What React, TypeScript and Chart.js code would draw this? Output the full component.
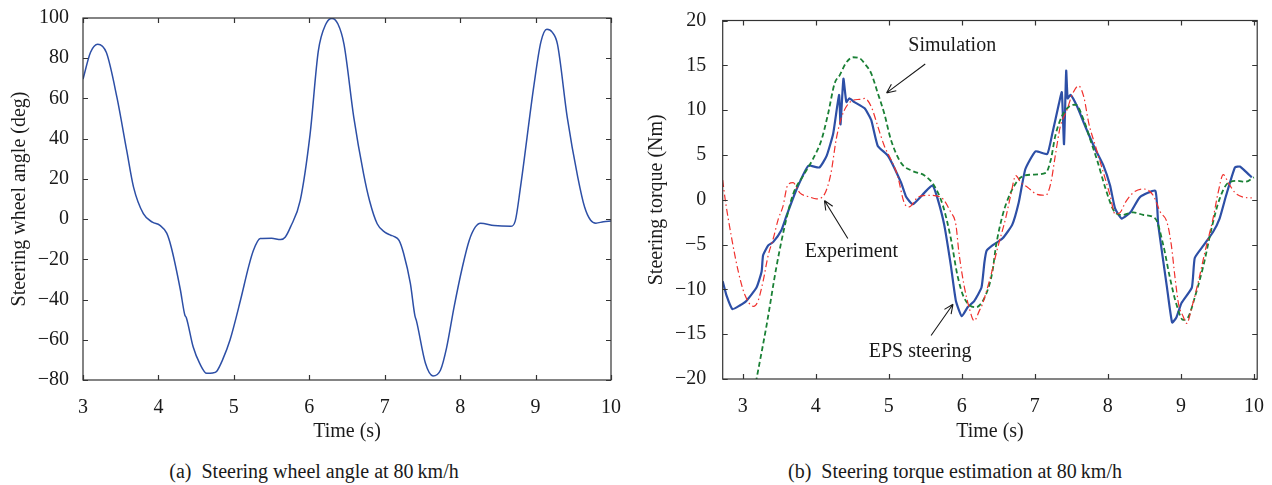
import React, { useEffect, useRef } from 'react';
import { Chart, registerables } from 'chart.js';

Chart.register(...registerables);

// ---------- (a) steering wheel angle ----------
const angleTime = [3.0, 3.1, 3.195, 3.31, 3.45, 3.58, 3.67, 3.8, 3.92, 4.02, 4.11, 4.17, 4.29, 4.35, 4.37, 4.46, 4.55, 4.64, 4.72, 4.77, 4.85, 4.95, 5.09, 5.2, 5.26, 5.35, 5.5, 5.62, 5.68, 5.75, 5.88, 6.01, 6.12, 6.22, 6.3, 6.38, 6.46, 6.59, 6.72, 6.8, 6.9, 7.0, 7.08, 7.12, 7.19, 7.25, 7.34, 7.4, 7.42, 7.54, 7.64, 7.74, 7.82, 7.92, 8.03, 8.12, 8.2, 8.27, 8.45, 8.67, 8.73, 8.8, 8.98, 9.07, 9.15, 9.22, 9.29, 9.42, 9.56, 9.65, 9.73, 9.8, 9.9, 10.0];
const angleDeg = [69.6, 83, 87, 82.8, 60.5, 34, 15.9, 2.7, -1.5, -3.1, -7, -14, -35, -47.7, -49, -63.5, -72, -76.7, -76.5, -75.8, -70, -60, -40, -23, -15.5, -9.7, -9.5, -10.2, -9, -4, 9.3, 42, 83.6, 97, 99.8, 97, 87, 50.6, 22.5, 9, -2.3, -6.5, -8, -8.6, -10.6, -17, -32, -48, -50.5, -71.7, -78, -75, -64, -43.6, -23.8, -10.6, -4, -2, -3.2, -3.6, -1, 15.9, 67, 88, 94.4, 93, 87, 50.6, 20.8, 6, -0.6, -2, -1.3, -1];
const timeTicksA = [3, 4, 5, 6, 7, 8, 9, 10];
const angleTicks = [-80, -60, -40, -20, 0, 20, 40, 60, 80, 100];

// ---------- (b) steering torque ----------
const epsTime = [2.727, 2.78, 2.86, 2.96, 3.05, 3.19, 3.26, 3.28, 3.35, 3.42, 3.53, 3.6, 3.74, 3.9, 4.05, 4.15, 4.24, 4.32, 4.34, 4.38, 4.42, 4.46, 4.53, 4.67, 4.76, 4.85, 4.99, 5.17, 5.24, 5.33, 5.49, 5.6, 5.67, 5.76, 5.85, 5.92, 6.0, 6.08, 6.17, 6.27, 6.31, 6.34, 6.42, 6.56, 6.69, 6.78, 6.87, 7.01, 7.17, 7.24, 7.33, 7.37, 7.4, 7.43, 7.45, 7.49, 7.58, 7.69, 7.83, 7.94, 8.03, 8.1, 8.19, 8.31, 8.44, 8.65, 8.69, 8.81, 8.88, 8.94, 9.01, 9.15, 9.19, 9.31, 9.44, 9.53, 9.62, 9.74, 9.81, 9.88, 9.97];
const epsTorque = [-9.1, -10.7, -12.2, -11.8, -11.3, -9.8, -8.0, -6.2, -5.1, -4.7, -3.4, -1.8, 1.2, 3.8, 3.6, 4.9, 7.4, 11.7, 8.4, 13.5, 10.9, 11.3, 10.9, 10.2, 8.9, 6.0, 4.9, 1.9, 0.3, -0.5, 0.8, 1.6, 0.1, -2.8, -7.3, -11.3, -13.0, -12.0, -11.3, -9.8, -7.0, -5.7, -5.1, -4.3, -2.8, -0.3, 3.4, 5.4, 5.1, 7.4, 10.7, 12.0, 6.2, 14.4, 11.3, 11.7, 10.4, 8.2, 5.6, 3.8, 1.6, -1.0, -2.1, -1.4, 0.3, 1.0, -2.8, -9.8, -13.7, -13.1, -11.5, -9.8, -6.5, -5.1, -3.6, -2.1, 0.5, 3.6, 3.7, 3.2, 2.5];

const simTime = [3.1, 3.19, 3.33, 3.46, 3.58, 3.69, 3.83, 3.96, 4.08, 4.17, 4.26, 4.33, 4.41, 4.51, 4.6, 4.67, 4.76, 4.85, 4.94, 5.03, 5.17, 5.33, 5.49, 5.62, 5.74, 5.85, 5.94, 6.03, 6.19, 6.33, 6.42, 6.47, 6.56, 6.67, 6.81, 6.96, 7.15, 7.22, 7.28, 7.37, 7.47, 7.56, 7.67, 7.76, 7.85, 7.97, 8.08, 8.19, 8.35, 8.49, 8.65, 8.76, 8.85, 8.94, 9.03, 9.1, 9.19, 9.31, 9.42, 9.53, 9.65, 9.78, 9.88, 10.0];
const simTorque = [-23.9, -20, -13.9, -7.6, -2.8, 0.6, 2.7, 4.5, 6.7, 9.6, 13.0, 13.9, 15.2, 15.9, 15.8, 15.2, 14.1, 11.9, 9.6, 6.7, 4.1, 3.2, 2.7, 1.6, -0.6, -4.3, -8.4, -10.9, -12.0, -10.6, -8.0, -5.1, -1.7, 0.8, 2.5, 2.8, 3.0, 4.5, 7.1, 9.3, 10.4, 10.6, 8.9, 6.7, 4.5, 1.2, -1.2, -1.7, -1.4, -1.7, -2.1, -5.1, -8.7, -11.7, -13.4, -13.1, -10.9, -7.3, -3.2, 0.1, 1.9, 2.1, 2.0, 2.5];

const expTime = [2.727, 2.76, 2.85, 2.94, 3.03, 3.15, 3.21, 3.28, 3.35, 3.42, 3.49, 3.55, 3.62, 3.69, 3.78, 3.92, 4.01, 4.12, 4.21, 4.28, 4.35, 4.42, 4.51, 4.6, 4.67, 4.76, 4.85, 4.94, 5.03, 5.12, 5.21, 5.28, 5.4, 5.53, 5.71, 5.85, 5.92, 5.96, 6.03, 6.1, 6.17, 6.24, 6.28, 6.4, 6.49, 6.6, 6.67, 6.74, 6.81, 6.9, 7.03, 7.15, 7.22, 7.28, 7.35, 7.44, 7.51, 7.6, 7.67, 7.74, 7.83, 7.94, 8.03, 8.1, 8.17, 8.24, 8.35, 8.49, 8.62, 8.72, 8.81, 8.87, 8.92, 8.97, 9.03, 9.08, 9.15, 9.24, 9.33, 9.44, 9.51, 9.58, 9.65, 9.74, 9.85, 9.97];
const expTorque = [2.2, 0.1, -4.3, -8.0, -10.6, -11.9, -11.3, -9.1, -6.2, -4.3, -2.1, -0.8, 1.7, 1.9, 0.8, 0.3, 0.1, 0.6, 3.0, 6.7, 9.1, 10.4, 11.1, 11.2, 11.3, 10.4, 8.2, 6.0, 4.5, 2.7, -0.3, -0.8, 0.3, 0.5, 0.3, -1.4, -2.8, -5.8, -9.5, -12.0, -13.5, -12.4, -11.7, -8.4, -5.4, -2.1, 0.5, 2.7, 1.9, 1.4, 0.6, 0.5, 1.9, 4.9, 8.2, 10.0, 11.7, 12.7, 11.5, 8.5, 6.0, 3.0, 0.5, -1.6, -1.4, -0.3, 0.8, 1.2, 0.5, -1.4, -2.5, -5.1, -8.7, -11.7, -13.0, -13.8, -12.0, -9.1, -5.8, -2.1, 0.8, 2.8, 1.9, 0.8, 0.3, 0.2];

const timeTicksB = [3, 4, 5, 6, 7, 8, 9, 10];
const torqueTicks = [-20, -15, -10, -5, 0, 5, 10, 15, 20];

// annotation labels (data coordinates of text centre, arrow tail, arrow head)
const noteTexts = ['Simulation', 'Experiment', 'EPS steering'];
const noteTextPos = [[5.87, 17.17], [4.49, -5.79], [5.43, -16.99]];
const noteTail = [[5.5, 15.15], [4.44, -4.32], [5.58, -15.15]];
const noteHead = [[4.97, 11.92], [4.12, -0.09], [5.88, -11.66]];

const FONT = "'Liberation Serif', 'Times New Roman', serif";
const INK = '#1a1a1a';

const pts = (xs: number[], ys: number[]) => xs.map((x, i) => ({ x, y: ys[i] }));
const fmt = (v: any) => String(v).replace('-', '\u2212');

const boxTicks = {
  id: 'boxTicks',
  afterDatasetsDraw(chart: any) {
    const { ctx, chartArea: a, scales } = chart;
    ctx.save();
    ctx.strokeStyle = '#333';
    ctx.lineWidth = 1.2;
    ctx.strokeRect(a.left, a.top, a.right - a.left, a.bottom - a.top);
    const L = 5;
    ctx.beginPath();
    scales.x.ticks.forEach((t: any) => {
      const p = Math.round(scales.x.getPixelForValue(t.value)) + 0.5;
      ctx.moveTo(p, a.bottom); ctx.lineTo(p, a.bottom - L);
      ctx.moveTo(p, a.top); ctx.lineTo(p, a.top + L);
    });
    scales.y.ticks.forEach((t: any) => {
      const p = Math.round(scales.y.getPixelForValue(t.value)) + 0.5;
      ctx.moveTo(a.left, p); ctx.lineTo(a.left + L, p);
      ctx.moveTo(a.right, p); ctx.lineTo(a.right - L, p);
    });
    ctx.stroke();
    ctx.restore();
  },
};

const notesPlugin = {
  id: 'notes',
  afterDraw(chart: any) {
    const { ctx, scales } = chart;
    const X = (v: number) => scales.x.getPixelForValue(v);
    const Y = (v: number) => scales.y.getPixelForValue(v);
    ctx.save();
    ctx.font = `20px ${FONT}`;
    ctx.fillStyle = INK;
    ctx.strokeStyle = INK;
    ctx.lineWidth = 1.1;
    ctx.textAlign = 'center';
    ctx.textBaseline = 'middle';
    noteTexts.forEach((txt, i) => {
      ctx.fillText(txt, X(noteTextPos[i][0]), Y(noteTextPos[i][1]));
      const x1 = X(noteTail[i][0]), y1 = Y(noteTail[i][1]);
      const x2 = X(noteHead[i][0]), y2 = Y(noteHead[i][1]);
      ctx.beginPath();
      ctx.moveTo(x1, y1); ctx.lineTo(x2, y2);
      const ang = Math.atan2(y2 - y1, x2 - x1);
      const hl = 10, hw = 0.42;
      ctx.moveTo(x2, y2); ctx.lineTo(x2 - hl * Math.cos(ang - hw), y2 - hl * Math.sin(ang - hw));
      ctx.moveTo(x2, y2); ctx.lineTo(x2 - hl * Math.cos(ang + hw), y2 - hl * Math.sin(ang + hw));
      ctx.stroke();
    });
    ctx.restore();
  },
};

function axis(min: number, max: number, ticks: number[], title: string, horizontal: boolean, size: number, titlePad: any, tickPad: number) {
  return {
    type: 'linear',
    min,
    max,
    afterBuildTicks: (s: any) => { s.ticks = ticks.map((v) => ({ value: v })); },
    afterFit: (s: any) => { if (horizontal) s.height = size; else s.width = size; },
    grid: { display: false },
    border: { display: false },
    ticks: { padding: tickPad, font: { size: 20, family: FONT }, color: INK, maxRotation: 0, autoSkip: false, callback: fmt },
    title: { display: true, text: title, color: INK, font: { size: 20, family: FONT }, padding: titlePad },
  };
}

export default function App() {
  const leftRef = useRef<HTMLCanvasElement>(null);
  const rightRef = useRef<HTMLCanvasElement>(null);

  useEffect(() => {
    const c1 = new Chart(leftRef.current as HTMLCanvasElement, {
      type: 'line',
      data: {
        datasets: [
          { data: pts(angleTime, angleDeg), borderColor: '#2d4fa6', borderWidth: 1.5, pointRadius: 0, cubicInterpolationMode: 'monotone' },
        ],
      },
      options: {
        animation: false,
        responsive: false,
        devicePixelRatio: 1,
        layout: { padding: { left: 0, top: 17, right: 25, bottom: 0 } },
        plugins: { legend: { display: false }, tooltip: { enabled: false } },
        scales: {
          x: axis(3, 10, timeTicksA, 'Time (s)', true, 75, { top: 0, bottom: 11 }, 8),
          y: axis(-80, 100, angleTicks, 'Steering wheel angle (deg)', false, 83, { top: 8, bottom: 0 }, 6),
        },
      } as any,
      plugins: [boxTicks],
    } as any);

    const c2 = new Chart(rightRef.current as HTMLCanvasElement, {
      type: 'line',
      data: {
        datasets: [
          { label: 'Experiment', data: pts(expTime, expTorque), borderColor: '#f0302c', borderWidth: 1.2, borderDash: [7, 3, 1.5, 3], pointRadius: 0, cubicInterpolationMode: 'monotone' },
          { label: 'Simulation', data: pts(simTime, simTorque), borderColor: '#1a8035', borderWidth: 1.8, borderDash: [5, 3], pointRadius: 0, cubicInterpolationMode: 'monotone' },
          { label: 'EPS steering', data: pts(epsTime, epsTorque), borderColor: '#2d4fa6', borderWidth: 2.2, pointRadius: 0, tension: 0.15 },
        ],
      },
      options: {
        animation: false,
        responsive: false,
        devicePixelRatio: 1,
        layout: { padding: { left: 0, top: 16, right: 13, bottom: 0 } },
        plugins: { legend: { display: false }, tooltip: { enabled: false } },
        scales: {
          x: axis(2.727, 10.045, timeTicksB, 'Time (s)', true, 76, { top: 0, bottom: 11 }, 8),
          y: axis(-20, 20, torqueTicks, 'Steering torque (Nm)', false, 86.7, { top: 9, bottom: 0 }, 8.5),
        },
      } as any,
      plugins: [boxTicks, notesPlugin],
    } as any);

    return () => { c1.destroy(); c2.destroy(); };
  }, []);

  const capStyle: React.CSSProperties = {
    position: 'absolute', top: 459, height: 24, lineHeight: '24px', fontSize: 20,
    fontFamily: FONT, color: INK, textAlign: 'center', whiteSpace: 'nowrap',
  };

  return (
    <div style={{ position: 'absolute', left: 0, top: 0, width: 1272, height: 485, background: '#fff', overflow: 'hidden' }}>
      <canvas ref={leftRef} width={636} height={455} style={{ position: 'absolute', left: 0, top: 0, width: 636, height: 455 }} />
      <canvas ref={rightRef} width={636} height={455} style={{ position: 'absolute', left: 636, top: 0, width: 636, height: 455 }} />
      <div style={{ ...capStyle, left: 0, width: 628 }}>(a)&#8194;Steering wheel angle at 80&#8201;km/h</div>
      <div style={{ ...capStyle, left: 636, width: 638 }}>(b)&#8194;Steering torque estimation at 80&#8201;km/h</div>
    </div>
  );
}
